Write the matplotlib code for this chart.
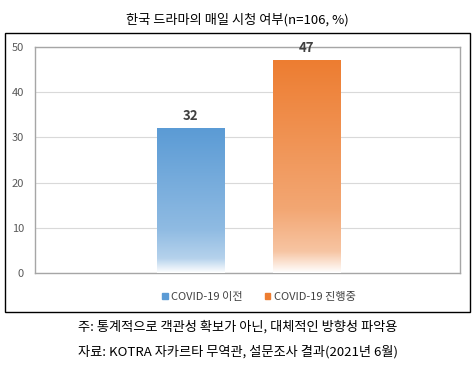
import numpy as np
import matplotlib
matplotlib.use("Agg")
import matplotlib.pyplot as plt
from matplotlib.patches import Rectangle
from matplotlib.colors import to_rgb

plt.rcParams['font.family'] = ['Noto Sans CJK KR', 'DejaVu Sans']

title = "한국 드라마의 매일 시청 여부(n=106, %)"
categories = ["COVID-19 이전", "COVID-19 진행중"]
values = [32, 47]
colors = ["#5B9BD5", "#ED7D31"]
yticks = [0, 10, 20, 30, 40, 50]
notes = ["주: 통계적으로 객관성 확보가 아닌, 대체적인 방향성 파악용",
         "자료: KOTRA 자카르타 무역관, 설문조사 결과(2021년 6월)"]


def gradient(color, n=256):
    # bottom white -> top full colour
    t = np.linspace(0, 1, n)
    f = np.interp(t, [0, 0.1, 0.3, 1], [0, 0.45, 0.68, 1])
    c = np.array(to_rgb(color))
    img = 1 - (1 - c)[None, :] * f[:, None]
    return img[:, None, :]


fig = plt.figure(figsize=(4.75, 3.67), dpi=100)
ax = fig.add_axes([35 / 475, 1 - 273 / 367, 425 / 475, 226 / 367])

x = np.arange(len(values))
bars = ax.bar(x, values, width=0.58, facecolor='none', edgecolor='none', zorder=3)
for b, c, v in zip(bars, colors, values):
    x0, y0 = b.get_x(), b.get_y()
    ax.imshow(gradient(c), extent=[x0, x0 + b.get_width(), y0, y0 + b.get_height()],
              origin='lower', aspect='auto', zorder=3)
    ax.text(b.get_x() + b.get_width() / 2, v + 1.2, str(v), ha='center', va='bottom',
            fontsize=9.5, fontweight='bold', color='#404040', zorder=4)

ax.set_xlim(-1.346, 2.333)
ax.set_ylim(0, 50)
ax.set_yticks(yticks)
ax.set_xticks([])
ax.yaxis.grid(True, color='#D9D9D9', linewidth=0.8, zorder=0)
ax.set_axisbelow(True)
ax.tick_params(axis='y', length=0, pad=8, labelsize=8, labelcolor='#595959')
for s in ax.spines.values():
    s.set_color('#A6A6A6')
    s.set_linewidth(1)

handles = [plt.Rectangle((0, 0), 1, 1, color=c) for c in colors]
fig.legend(handles, categories, loc='center', bbox_to_anchor=(0.545, 1 - 297 / 367),
           ncol=2, frameon=False, fontsize=8, handlelength=0.5, handleheight=0.5,
           handletextpad=0.3, columnspacing=2.0, labelcolor='#404040')

fig.patches.append(Rectangle((5 / 475, 1 - 312 / 367), 465 / 475, 279 / 367,
                             transform=fig.transFigure, fill=False,
                             edgecolor='black', linewidth=1))

fig.text(0.5, 1 - 20 / 367, title, ha='center', va='center', fontsize=9.5)
fig.text(0.5, 1 - 327 / 367, notes[0], ha='center', va='center', fontsize=9.5)
fig.text(0.5, 1 - 352 / 367, notes[1], ha='center', va='center', fontsize=9.5)

fig.savefig("out.png", dpi=100)
